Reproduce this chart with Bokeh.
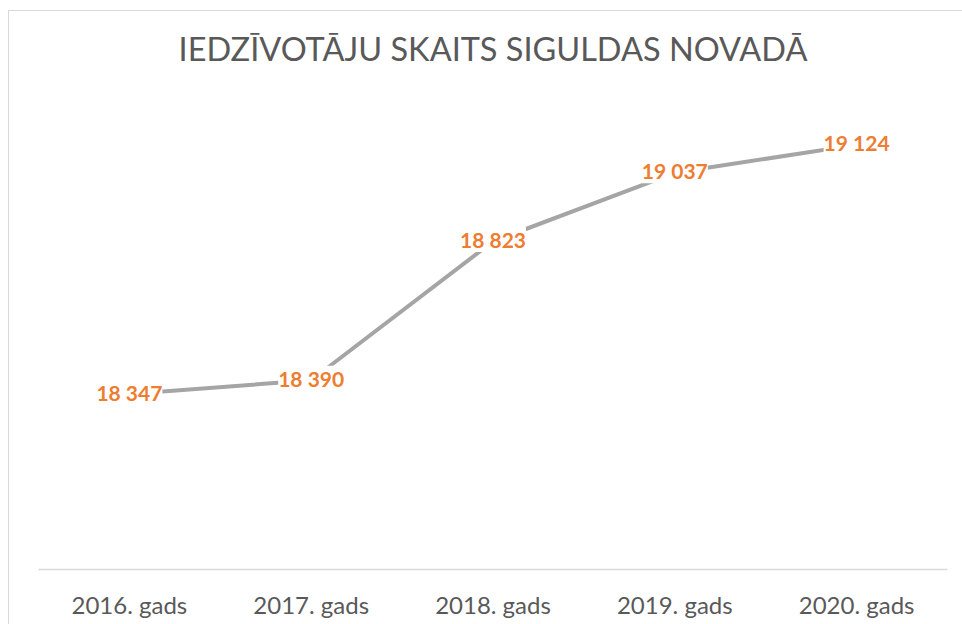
from bokeh.plotting import figure
from bokeh.models import ColumnDataSource, LabelSet, Range1d, Title
from bokeh.core.properties import value
from bokeh.embed import file_html
from bokeh.resources import INLINE

years = ["2016. gads", "2017. gads", "2018. gads", "2019. gads", "2020. gads"]
population = [18347, 18390, 18823, 19037, 19124]
label_texts = ["18 347", "18 390", "18 823", "19 037", "19 124"]
title_text = "IEDZĪVOTĀJU SKAITS SIGULDAS NOVADĀ"

src = ColumnDataSource(dict(x=years, y=population, t=label_texts))

p = figure(x_range=years, y_range=Range1d(17800, 19200),
           width=954, height=614, output_backend="svg", toolbar_location=None,
           min_border_left=29, min_border_right=16, min_border_top=109, min_border_bottom=56,
           margin=(10, 0, 0, 8))
p.styles = {"border-top": "1px solid #d9d9d9", "border-left": "1px solid #d9d9d9"}

p.title.text = title_text
p.title.align = "center"
p.title.text_font = "Lato"
p.title.text_font_size = "32.5px"
p.title.text_font_style = "normal"
p.title.text_color = "#595959"
p.title.standoff = 30

# invisible spacer between title and plot area
spacer = Title(text=" ", text_font_size="1px", standoff=35)
p.add_layout(spacer, "above")

p.outline_line_color = None
p.xgrid.grid_line_color = None
p.ygrid.grid_line_color = None
p.yaxis.visible = False

p.xaxis.axis_line_color = "#d9d9d9"
p.xaxis.axis_line_width = 1.5
p.xaxis.major_tick_line_color = None
p.xaxis.minor_tick_line_color = None
p.xaxis.major_label_text_font = "Lato"
p.xaxis.major_label_text_font_size = "24px"
p.xaxis.major_label_text_color = "#595959"
p.xaxis.major_label_standoff = 14

p.line("x", "y", source=src, line_color="#a5a5a5", line_width=4)

labels = LabelSet(x="x", y="y", text="t", source=src, text_align="center",
                  text_baseline="middle", text_font=value("Lato"), text_font_size=value("21px"),
                  text_font_style="bold", text_color="#ed7d31",
                  background_fill_color="white", y_offset=2)
p.add_layout(labels)

open("out.html", "w").write(file_html(p, INLINE))
